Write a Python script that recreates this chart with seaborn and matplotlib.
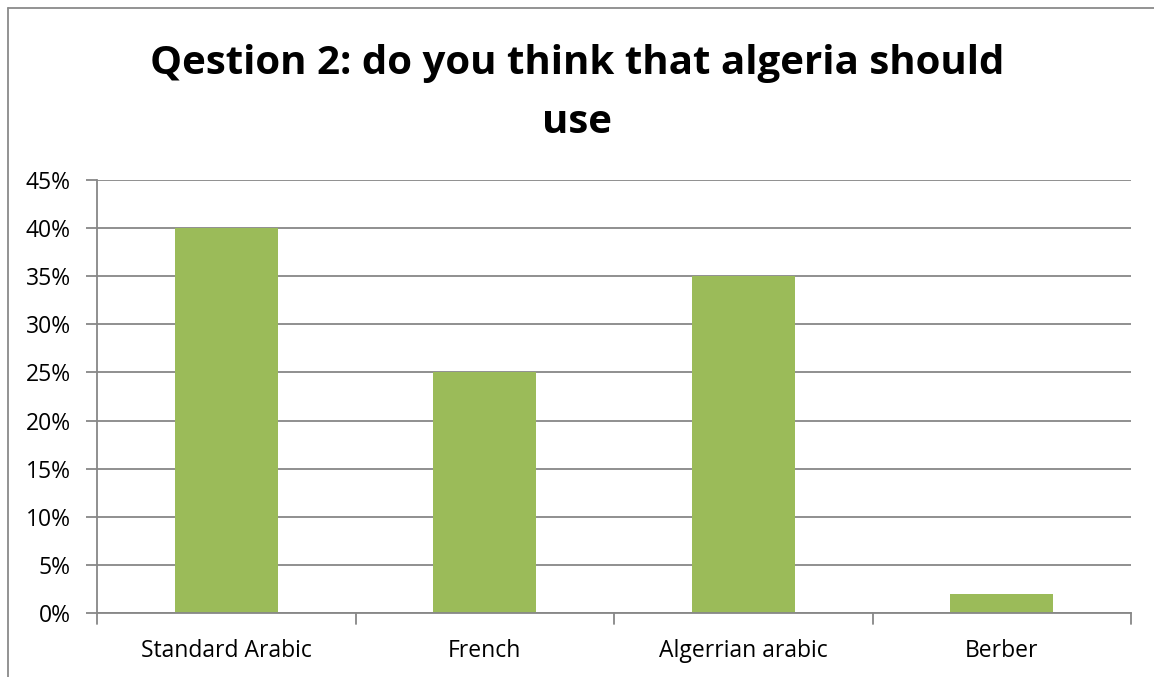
import matplotlib
matplotlib.use("Agg")
import matplotlib.pyplot as plt
from matplotlib.lines import Line2D
from matplotlib.ticker import PercentFormatter, FixedLocator
import seaborn as sns
import pandas as pd

categories = ["Standard Arabic", "French", "Algerrian arabic", "Berber"]
shares = [40, 25, 35, 2]
title = "Qestion 2: do you think that algeria should\nuse"

sns.set_theme(style="white")
plt.rcParams["font.family"] = ["Open Sans", "DejaVu Sans"]

W, H = 1154, 677
fig = plt.figure(figsize=(W / 100, H / 100), dpi=100)
ax = fig.add_axes([97 / W, 1 - 613 / H, (1131 - 97) / W, (613 - 180) / H])

df = pd.DataFrame({"language": categories, "share": shares})
sns.barplot(data=df, x="language", y="share", color="#9BBB59", width=0.4,
            saturation=1, linewidth=0, ax=ax, zorder=3)

grid_c = "#878787"
ax.set_ylim(0, 45)
ax.set_xlim(-0.5, len(categories) - 0.5)
ax.yaxis.set_major_locator(FixedLocator(range(0, 50, 5)))
ax.yaxis.set_major_formatter(PercentFormatter(decimals=0))
ax.grid(axis="y", color=grid_c, linewidth=1.3, zorder=0)
ax.set_axisbelow(True)
for s in ["top", "right"]:
    ax.spines[s].set_visible(False)
for s in ["left", "bottom"]:
    ax.spines[s].set_color(grid_c)
    ax.spines[s].set_linewidth(1.3)
    ax.spines[s].set_zorder(4)

ax.set_xlabel("")
ax.set_ylabel("")
ax.tick_params(axis="y", left=True, length=8, width=1.3, color=grid_c,
               labelsize=16.5, pad=11, labelcolor="black")
ax.tick_params(axis="x", bottom=False, labelsize=16.5, pad=13, labelcolor="black")

# category boundary ticks on the horizontal axis
for b in [i - 0.5 for i in range(len(categories) + 1)]:
    ax.plot([b, b], [0, -1.1], color=grid_c, linewidth=1.3, clip_on=False, zorder=4)

fig.text(0.5, 1 - 93 / H, title, ha="center", va="center", fontsize=29,
         fontweight="bold", color="black", linespacing=1.68)

# chart frame
fig.add_artist(Line2D([8 / W, 8 / W], [0, 1 - 8 / H], color="#8a8a8a",
                      linewidth=1.3, transform=fig.transFigure))
fig.add_artist(Line2D([8 / W, 1], [1 - 8 / H, 1 - 8 / H], color="#8a8a8a",
                      linewidth=1.3, transform=fig.transFigure))

fig.savefig("out.png", dpi=100, facecolor="white")
